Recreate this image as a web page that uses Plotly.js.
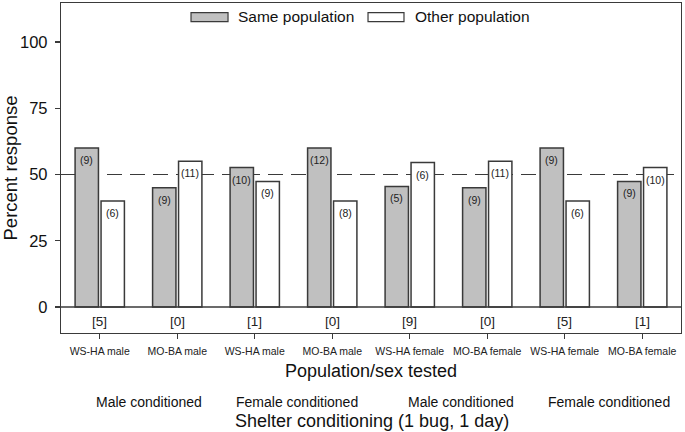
<!DOCTYPE html>
<html>
<head>
<meta charset="utf-8">
<script src="https://cdn.plot.ly/plotly-3.0.1.min.js"></script>
<style>html,body{margin:0;padding:0;background:#fff;}#chart{width:685px;height:432px;}</style>
</head>
<body>
<div id="chart"></div>
<script>
// ---- data ----
const categories = ["WS-HA male", "MO-BA male", "WS-HA male", "MO-BA male",
                    "WS-HA female", "MO-BA female", "WS-HA female", "MO-BA female"];
const samePop = [60, 45, 52.6, 60, 45.5, 45, 60, 47.4];
const otherPop = [40, 55, 47.4, 40, 54.5, 55, 40, 52.6];
const sameN = ["(9)", "(9)", "(10)", "(12)", "(5)", "(9)", "(9)", "(9)"];
const otherN = ["(6)", "(11)", "(9)", "(8)", "(6)", "(11)", "(6)", "(10)"];
const noChoice = ["[5]", "[0]", "[1]", "[0]", "[9]", "[0]", "[5]", "[1]"];
const conditioning = ["Male conditioned", "Female conditioned", "Male conditioned", "Female conditioned"];
const seriesNames = ["Same population", "Other population"];
const yTicks = [0, 25, 50, 75, 100];
const chanceLevel = 50;

// ---- layout helpers ----
const FONT = "Liberation Sans, Arial, sans-serif";
const idx = categories.map((_, i) => i);
const BARGAP = 0.33;
const slot = (1 - BARGAP) / 2;
const lineCol = "#3a3a3a";
const condPos = [0.63, 2.55, 4.66, 6.57];

const traces = [
  {type: "bar", name: seriesNames[0], x: idx, y: samePop,
   marker: {color: "#c0c0c0", line: {color: lineCol, width: 1.5}}, hoverinfo: "y"},
  {type: "bar", name: seriesNames[1], x: idx, y: otherPop,
   marker: {color: "#ffffff", line: {color: lineCol, width: 1.5}}, hoverinfo: "y"}
];

const ann = [];
idx.forEach(i => {
  ann.push({x: i - slot / 2, y: samePop[i], xref: "x", yref: "y", text: sameN[i], showarrow: false,
            yanchor: "middle", yshift: -12, font: {family: FONT, size: 10.5, color: "#222"}});
  ann.push({x: i + slot / 2, y: otherPop[i], xref: "x", yref: "y", text: otherN[i], showarrow: false,
            yanchor: "middle", yshift: -12, font: {family: FONT, size: 10.5, color: "#222"}});
  ann.push({x: i, y: -5.6, xref: "x", yref: "y", text: noChoice[i], showarrow: false,
            yanchor: "middle", font: {family: FONT, size: 13.5, color: "#222"}});
});
conditioning.forEach((t, k) => {
  ann.push({x: condPos[k], y: -0.209, xref: "x", yref: "paper", text: t, showarrow: false,
            yanchor: "middle", font: {family: FONT, size: 14, color: "#111"}});
});
ann.push({x: 0.502, y: -0.266, xref: "paper", yref: "paper", text: "Shelter conditioning (1 bug, 1 day)",
          showarrow: false, yanchor: "middle", font: {family: FONT, size: 18, color: "#111"}});
// manual legend
const legBoxes = [[0.2097, 0.2694], [0.4952, 0.5532]];
const legFills = ["#c0c0c0", "#ffffff"];
const legTextX = [0.2823, 0.5677];
const shapes = [
  {type: "line", xref: "paper", x0: 0, x1: 1, yref: "y", y0: chanceLevel, y1: chanceLevel,
   line: {color: lineCol, width: 1.2, dash: "15px,8px"}, layer: "below"},
  {type: "line", xref: "paper", x0: 0, x1: 1, yref: "y", y0: 0, y1: 0,
   line: {color: lineCol, width: 1.5}, layer: "above"}
];
legBoxes.forEach((b, k) => {
  shapes.push({type: "rect", xref: "paper", yref: "paper", x0: b[0], x1: b[1], y0: 0.9433, y1: 0.9706,
               fillcolor: legFills[k], line: {color: lineCol, width: 1.2}});
  ann.push({x: legTextX[k], y: 0.9576, xref: "paper", yref: "paper", text: seriesNames[k], showarrow: false,
            xanchor: "left", yanchor: "middle", font: {family: FONT, size: 15.5, color: "#111"}});
});

const layout = {
  width: 685, height: 432,
  margin: {l: 61, r: 4, t: 3, b: 99},
  paper_bgcolor: "#fff", plot_bgcolor: "#fff",
  font: {family: FONT, color: "#111"},
  barmode: "group", bargap: BARGAP, bargroupgap: 0.1,
  showlegend: false,
  xaxis: {
    range: [-0.5, 7.5], tickmode: "array", tickvals: idx, ticktext: categories,
    ticks: "outside", ticklen: 5, tickcolor: lineCol, tickwidth: 1.2,
    ticklabelstandoff: 3,
    tickfont: {family: FONT, size: 10.5, color: "#222"},
    showline: true, linecolor: lineCol, linewidth: 1.2, mirror: true,
    showgrid: false, zeroline: false,
    title: {text: "Population/sex tested", font: {family: FONT, size: 18, color: "#111"}, standoff: 8}
  },
  yaxis: {
    range: [-9.8, 114.7], tickmode: "array", tickvals: yTicks,
    ticks: "outside", ticklen: 5, tickcolor: lineCol, tickwidth: 1.2,
    ticklabelstandoff: 4,
    tickfont: {family: FONT, size: 16.5, color: "#111"},
    showline: true, linecolor: lineCol, linewidth: 1.2, mirror: true,
    showgrid: false, zeroline: false,
    title: {text: "Percent response", font: {family: FONT, size: 18.5, color: "#111"}, standoff: 4}
  },
  annotations: ann,
  shapes: shapes
};

Plotly.newPlot("chart", traces, layout, {displayModeBar: false, staticPlot: true});
</script>
</body>
</html>
